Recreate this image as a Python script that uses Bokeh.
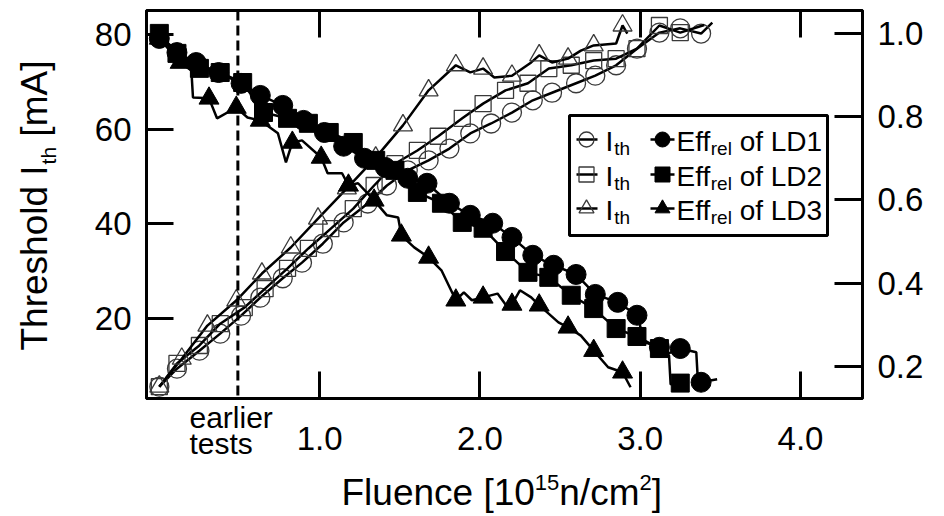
import math
from bokeh.plotting import figure
from bokeh.layouts import row, column
from bokeh.models import (Range1d, LinearAxis, FixedTicker, Span, Label,
                          NumeralTickFormatter, CustomJSTickFormatter)
from bokeh.embed import file_html
from bokeh.resources import INLINE

# ---------------- data (fluence in 1e15 n/cm^2) ----------------
# Threshold current [mA], open markers (left axis)
ld1_ith_x = [0.00, 0.11, 0.25, 0.38, 0.51, 0.63, 0.77, 0.89, 1.02, 1.15, 1.30, 1.42, 1.55, 1.68,
             1.81, 1.94, 2.07, 2.20, 2.33, 2.45, 2.60, 2.72, 2.85, 2.98, 3.12, 3.25, 3.38, 3.45]
ld1_ith_y = [5.6, 9.4, 13.2, 16.8, 20.6, 24.4, 28.5, 31.8, 35.8, 40.3, 44.3, 48.1, 51.3, 53.4,
             55.9, 59.1, 61.2, 63.5, 66.1, 67.7, 69.7, 71.3, 73.5, 77.0, 80.4, 81.3, 80.2, 82.5]
ld1_ith_m = [1] * 27 + [0]

ld2_ith_x = [0.00, 0.11, 0.25, 0.38, 0.53, 0.66, 0.80, 0.93, 1.07, 1.21, 1.34, 1.47, 1.61,
             1.74, 1.89, 2.02, 2.16, 2.30, 2.43, 2.57, 2.71, 2.85, 2.98, 3.12, 3.25, 3.40]
ld2_ith_y = [5.6, 10.5, 14.3, 18.9, 22.3, 26.3, 30.6, 34.8, 39.0, 43.2, 48.1, 52.7, 55.5,
             58.5, 62.3, 65.4, 68.2, 69.7, 72.8, 73.5, 74.5, 74.9, 77.0, 81.9, 80.4, 82.0]
ld2_ith_m = [1] * 25 + [0]

ld3_ith_x = [0.00, 0.14, 0.30, 0.48, 0.64, 0.82, 0.99, 1.17, 1.35, 1.52, 1.68, 1.85, 1.94,
             2.02, 2.09, 2.20, 2.32, 2.37, 2.45, 2.55, 2.63, 2.71, 2.85, 2.89, 2.92]
ld3_ith_y = [5.6, 11.5, 18.5, 23.8, 29.5, 35.0, 41.1, 47.5, 54.0, 60.8, 68.2, 73.5, 72.0,
             72.8, 70.9, 71.3, 74.1, 75.6, 74.1, 74.9, 76.6, 77.7, 78.1, 81.9, 80.2]
ld3_ith_m = [1, 1, 1, 1, 1, 1, 1, 1, 1, 1, 1, 1, 0, 1, 0, 1, 0, 1, 0, 1, 0, 1, 0, 1, 0]

# Relative efficiency, filled markers (right axis)
ld1_eff_x = [0.00, 0.11, 0.23, 0.37, 0.51, 0.63, 0.77, 0.90, 1.03, 1.15, 1.28, 1.41, 1.55, 1.67,
             1.81, 1.94, 2.08, 2.20, 2.33, 2.46, 2.60, 2.72, 2.86, 2.98, 3.03, 3.12, 3.18, 3.25,
             3.35, 3.36, 3.38, 3.48]
ld1_eff_y = [0.988, 0.954, 0.930, 0.906, 0.880, 0.851, 0.827, 0.791, 0.762, 0.729, 0.700, 0.678,
             0.652, 0.640, 0.592, 0.563, 0.544, 0.510, 0.467, 0.443, 0.421, 0.373, 0.354, 0.323,
             0.258, 0.246, 0.232, 0.243, 0.234, 0.166, 0.162, 0.169]
ld1_eff_m = [1] * 24 + [0, 1, 0, 1, 0, 0, 1, 0]

ld2_eff_x = [0.00, 0.11, 0.25, 0.38, 0.52, 0.65, 0.80, 0.93, 1.06, 1.21, 1.35, 1.47, 1.61, 1.76,
             1.89, 2.02, 2.16, 2.30, 2.43, 2.57, 2.71, 2.85, 2.98, 3.12, 3.18, 3.19, 3.25]
ld2_eff_y = [1.000, 0.952, 0.916, 0.906, 0.882, 0.810, 0.796, 0.784, 0.762, 0.738, 0.695, 0.671,
             0.618, 0.592, 0.546, 0.532, 0.476, 0.426, 0.414, 0.371, 0.339, 0.291, 0.272, 0.243,
             0.226, 0.157, 0.160]
ld2_eff_m = [1] * 24 + [0, 0, 1]

ld3_eff_x = [0.00, 0.13, 0.20, 0.21, 0.31, 0.36, 0.48, 0.55, 0.63, 0.74, 0.79, 0.83, 0.89, 1.01,
             1.05, 1.14, 1.18, 1.24, 1.34, 1.42, 1.49, 1.51, 1.59, 1.68, 1.76, 1.85, 1.90, 1.95,
             2.02, 2.11, 2.16, 2.20, 2.25, 2.32, 2.37, 2.42, 2.49, 2.55, 2.63, 2.71, 2.80, 2.89, 2.94]
ld3_eff_y = [0.988, 0.930, 0.911, 0.846, 0.844, 0.796, 0.822, 0.798, 0.791, 0.760, 0.690, 0.738,
             0.743, 0.702, 0.664, 0.664, 0.635, 0.640, 0.599, 0.563, 0.558, 0.515, 0.486, 0.462,
             0.431, 0.359, 0.378, 0.359, 0.366, 0.375, 0.349, 0.349, 0.383, 0.366, 0.347, 0.330,
             0.306, 0.294, 0.274, 0.238, 0.198, 0.186, 0.150]
ld3_eff_m = [1, 1, 0, 0, 1, 0, 1, 0, 1, 0, 0, 1, 0, 1, 0, 0, 1, 0, 1, 0, 0, 1, 0, 1, 0, 1, 0, 0,
             1, 0, 0, 1, 0, 0, 1, 0, 0, 1, 0, 1, 0, 1, 0]

x_ticks = [1.0, 2.0, 3.0, 4.0]
yl_ticks = [20, 40, 60, 80]
yr_ticks = [0.2, 0.4, 0.6, 0.8, 1.0]
earlier_tests_x = 0.49
legend_names = ["LD1", "LD2", "LD3"]

# ---------------- layout (page pixels) ----------------
FONT = "Liberation Sans"
PW, PH = 944, 516
YW = 62                     # width of the strip holding the y title
MH = 400                    # height of the main plot
PL, PR, PT, PB = 146, 862, 10, 398          # frame edges in page px
X_LO, X_HI = -0.08, 4.387
YL_LO, YL_HI = 3.10, 85.07
YR_LO, YR_HI = 0.123, 1.055
BL = 0.36                   # anchor-to-baseline correction (fraction of font size)


def X(px):
    return X_LO + (px - PL) / (PR - PL) * (X_HI - X_LO)


def YL(py):
    return YL_HI - (py - PT) / (PB - PT) * (YL_HI - YL_LO)


AW = {' ': 278, '[': 278, ']': 278, '/': 278, 'A': 667, 'D': 722, 'E': 667, 'F': 611,
      'I': 278, 'L': 556, 'T': 611, 'a': 556, 'c': 500, 'd': 556, 'e': 556, 'f': 278,
      'h': 556, 'i': 222, 'l': 222, 'm': 833, 'n': 556, 'o': 556, 'r': 333, 's': 500,
      't': 278, 'u': 556}
for _d in "0123456789":
    AW[_d] = 556


def tw(s, size):
    return sum(AW[c] for c in s) / 1000.0 * size


def txt_label(x, y, text, size, angle=0.0, align="left"):
    return Label(x=x, y=y, text=text, angle=angle, text_font=FONT, text_font_size=f"{size}px",
                 text_color="black", text_baseline="alphabetic", text_align=align)


xr = Range1d(X_LO, X_HI)

# ---------------- main plot ----------------
p = figure(width=PW - YW, height=MH, output_backend="svg", toolbar_location=None,
           x_range=xr, y_range=Range1d(YL_LO, YL_HI),
           x_axis_location=None, y_axis_location=None,
           min_border_left=PL - YW, min_border_right=PW - PR,
           min_border_top=PT, min_border_bottom=MH - PB)
p.extra_y_ranges = {"eff": Range1d(YR_LO, YR_HI)}
p.xgrid.visible = False
p.ygrid.visible = False
p.outline_line_color = "black"
p.outline_line_width = 3
p.background_fill_color = "white"
p.border_fill_color = "white"


def style_axis(ax, tick_in, size, standoff):
    ax.major_tick_in = tick_in
    ax.major_tick_out = 0
    ax.major_tick_line_width = 3
    ax.major_tick_line_color = "black"
    ax.minor_tick_line_color = None
    ax.axis_line_width = 3
    ax.axis_line_color = "black"
    ax.major_label_text_font = FONT
    ax.major_label_text_font_size = size
    ax.major_label_text_color = "black"
    ax.major_label_standoff = standoff


blank = CustomJSTickFormatter(code="return ''")
xb = LinearAxis(ticker=FixedTicker(ticks=x_ticks), formatter=blank)
style_axis(xb, 27, "0px", 0)
p.add_layout(xb, "below")

xt = LinearAxis(ticker=FixedTicker(ticks=x_ticks), formatter=blank)
style_axis(xt, 27, "0px", 0)
p.add_layout(xt, "above")

yl = LinearAxis(ticker=FixedTicker(ticks=yl_ticks))
style_axis(yl, 27, "33px", 15)
p.add_layout(yl, "left")

yr = LinearAxis(y_range_name="eff", ticker=FixedTicker(ticks=yr_ticks),
                formatter=NumeralTickFormatter(format="0.0"))
style_axis(yr, 28, "33px", 15)
p.add_layout(yr, "right")

OPEN = dict(fill_alpha=0, line_color="#3a3a3a", line_width=1.3)
FILL = dict(fill_color="black", line_color="black", line_width=1)

series = [
    (ld1_ith_x, ld1_ith_y, ld1_ith_m, "circle", 19, OPEN, "default"),
    (ld2_ith_x, ld2_ith_y, ld2_ith_m, "square", 16, OPEN, "default"),
    (ld3_ith_x, ld3_ith_y, ld3_ith_m, "triangle", 19, OPEN, "default"),
    (ld1_eff_x, ld1_eff_y, ld1_eff_m, "circle", 20, FILL, "eff"),
    (ld2_eff_x, ld2_eff_y, ld2_eff_m, "square", 18, FILL, "eff"),
    (ld3_eff_x, ld3_eff_y, ld3_eff_m, "triangle", 20, FILL, "eff"),
]
for xs, ys, ms, mk, sz, sty, rng in series:
    p.line(xs, ys, line_color="black", line_width=2.5, y_range_name=rng)
    mx = [a for a, f in zip(xs, ms) if f]
    my = [b for b, f in zip(ys, ms) if f]
    p.scatter(mx, my, marker=mk, size=sz, y_range_name=rng, **sty)

p.add_layout(Span(location=earlier_tests_x, dimension="height", line_color="black",
                  line_width=3, line_dash="10 5"))


def main_text(px, py_base, text, size):
    """text in the main plot, given left x and baseline y in page pixels"""
    p.add_layout(txt_label(X(px), YL(py_base - BL * size), text, size))


# legend drawn by hand (for the subscripts)
p.quad(left=X(569), right=X(827), top=YL(115), bottom=YL(235),
       fill_color="white", line_color="black", line_width=3)
rows = [139, 174, 208]
markers = ["circle", "square", "triangle"]
LS, SS = 28, 19
for r, mk, name in zip(rows, markers, legend_names):
    p.segment(x0=[X(576)], y0=[YL(r)], x1=[X(597)], y1=[YL(r)], line_color="black", line_width=2.5)
    p.scatter([X(586)], [YL(r)], marker=mk, size=15, **OPEN)
    p.segment(x0=[X(650)], y0=[YL(r)], x1=[X(674)], y1=[YL(r)], line_color="black", line_width=2.5)
    p.scatter([X(662)], [YL(r)], marker=mk, size=15, **FILL)
    base = r + 12
    x0 = 605
    main_text(x0, base, "I", LS)
    main_text(x0 + tw("I", LS) + 1, base + 4, "th", SS)
    x1 = 676
    main_text(x1, base, "Eff", LS)
    x2 = x1 + tw("Eff", LS)
    main_text(x2, base + 4, "rel", SS)
    x3 = x2 + tw("rel", SS) + tw(" ", LS)
    main_text(x3, base, "of " + name, LS)

# ---------------- y title strip (data units = page pixels) ----------------
yf = figure(width=YW, height=PH, output_backend="svg", toolbar_location=None,
            x_range=Range1d(0, YW), y_range=Range1d(PH, 0),
            x_axis_location=None, y_axis_location=None,
            min_border_left=0, min_border_right=0, min_border_top=0, min_border_bottom=0)
yf.xgrid.visible = False
yf.ygrid.visible = False
yf.outline_line_color = None
YS, YSS = 37, 21
ybx, yby = 47, 350


def y_text(bx, start, text, size):
    yf.add_layout(txt_label(bx - BL * size, start, text, size, angle=math.pi / 2))


y_text(ybx, yby, "Threshold I", YS)
yy = yby - tw("Threshold I", YS) - 1
y_text(ybx + 9, yy, "th", YSS)
yy = yy - tw("th", YSS) - tw(" ", YS)
y_text(ybx, yy, "[mA]", YS)

# ---------------- x tick labels and x title strip ----------------
xf = figure(width=PW - YW, height=PH - MH, output_backend="svg", toolbar_location=None,
            x_range=xr, y_range=Range1d(PH, MH),
            x_axis_location=None, y_axis_location=None,
            min_border_left=PL - YW, min_border_right=PW - PR,
            min_border_top=0, min_border_bottom=0)
xf.xgrid.visible = False
xf.ygrid.visible = False
xf.outline_line_color = None


def x_text(xd, base, text, size, align="left"):
    xf.add_layout(txt_label(xd, base - BL * size, text, size, align=align))


for t in x_ticks:
    x_text(t, 450, f"{t:.1f}", 33, align="center")
for txt, by in [("earlier", 428), ("tests", 454)]:
    x_text(X(189), by, txt, 30)

XS, XSS = 37, 22
xx, xbase = 341, 505
parts = [("Fluence [10", XS, 0), ("15", XSS, -15), ("n/cm", XS, 0), ("2", XSS, -15), ("]", XS, 0)]
for txt, sz, dy in parts:
    x_text(X(xx), xbase + dy, txt, sz)
    xx += tw(txt, sz)

layout = row(yf, column(p, xf))
open("out.html", "w").write(file_html(layout, INLINE))
